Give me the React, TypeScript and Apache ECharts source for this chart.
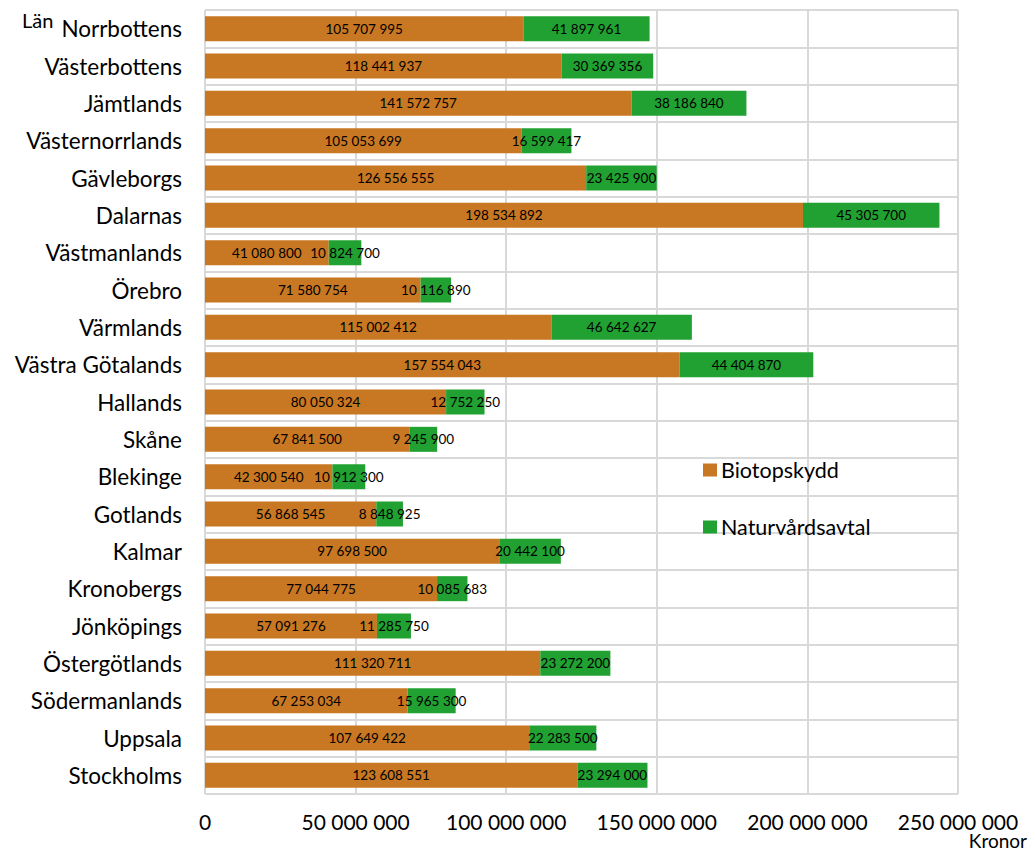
import React, { useEffect, useRef } from "react";
import * as echarts from "echarts";

const categories = [
  "Norrbottens", "Västerbottens", "Jämtlands", "Västernorrlands", "Gävleborgs",
  "Dalarnas", "Västmanlands", "Örebro", "Värmlands", "Västra Götalands",
  "Hallands", "Skåne", "Blekinge", "Gotlands", "Kalmar", "Kronobergs",
  "Jönköpings", "Östergötlands", "Södermanlands", "Uppsala", "Stockholms",
];

const biotopskydd = [
  105707995, 118441937, 141572757, 105053699, 126556555, 198534892, 41080800,
  71580754, 115002412, 157554043, 80050324, 67841500, 42300540, 56868545,
  97698500, 77044775, 57091276, 111320711, 67253034, 107649422, 123608551,
];

const naturvardsavtal = [
  41897961, 30369356, 38186840, 16599417, 23425900, 45305700, 10824700,
  10116890, 46642627, 44404870, 12752250, 9245900, 10912300, 8848925,
  20442100, 10085683, 11285750, 23272200, 15965300, 22283500, 23294000,
];

const seriesNames = ["Biotopskydd", "Naturvårdsavtal"];
const FONT = "Lato, 'Noto Sans', sans-serif";

const fmt = (v: number) =>
  String(Math.round(v)).replace(/\B(?=(\d{3})+(?!\d))/g, " ");

export default function App() {
  const ref = useRef<HTMLDivElement>(null);
  useEffect(() => {
    if (!ref.current) return;
    const chart = echarts.init(ref.current, null, { renderer: "svg" });
    const labelStyle = {
      show: true,
      position: "inside",
      color: "#000",
      fontSize: 13.5,
      fontFamily: FONT,
      formatter: (p: any) => fmt(p.value),
    };
    chart.setOption({
      animation: false,
      backgroundColor: "#ffffff",
      textStyle: { fontFamily: FONT },
      grid: { left: 205, right: 75, top: 10, bottom: 58, containLabel: false },
      legend: {
        orient: "vertical",
        left: 698,
        top: 454,
        itemGap: 35,
        itemWidth: 14,
        itemHeight: 13,
        icon: "rect",
        data: seriesNames,
        textStyle: { fontSize: 21.5, lineHeight: 22, color: "#000", fontFamily: FONT, padding: [0, 0, 0, -1] },
      },
      xAxis: {
        type: "value",
        min: 0,
        max: 250000000,
        interval: 50000000,
        axisLine: { show: false },
        axisTick: { show: false },
        axisLabel: {
          fontSize: 21,
          lineHeight: 20,
          color: "#000",
          fontFamily: FONT,
          margin: 17,
          formatter: (v: number) => fmt(v),
        },
        splitLine: { show: true, lineStyle: { color: "#d9d9d9", width: 2 } },
      },
      yAxis: {
        type: "category",
        data: categories,
        inverse: true,
        axisLine: { show: false },
        axisTick: { show: false },
        axisLabel: { fontSize: 22.5, color: "#000", fontFamily: FONT, margin: 23 },
        splitLine: { show: true, lineStyle: { color: "#d9d9d9", width: 2 } },
      },
      series: [
        {
          name: seriesNames[0],
          type: "bar",
          stack: "total",
          data: biotopskydd,
          barWidth: 25,
          itemStyle: { color: "#c87722" },
          label: labelStyle,
        },
        {
          name: seriesNames[1],
          type: "bar",
          stack: "total",
          data: naturvardsavtal,
          barWidth: 25,
          itemStyle: { color: "#21a131" },
          label: labelStyle,
        },
      ],
      graphic: [
        {
          type: "text",
          left: 22,
          top: 10,
          style: { text: "Län", fontSize: 20, fill: "#000", fontFamily: FONT },
        },
        {
          type: "text",
          right: 6,
          top: 831,
          style: { text: "Kronor", fontSize: 19, fill: "#000", fontFamily: FONT },
        },
      ],
    });
    return () => chart.dispose();
  }, []);
  return (
    <div
      ref={ref}
      style={{ position: "absolute", left: 0, top: 0, width: 1033, height: 852 }}
    />
  );
}
